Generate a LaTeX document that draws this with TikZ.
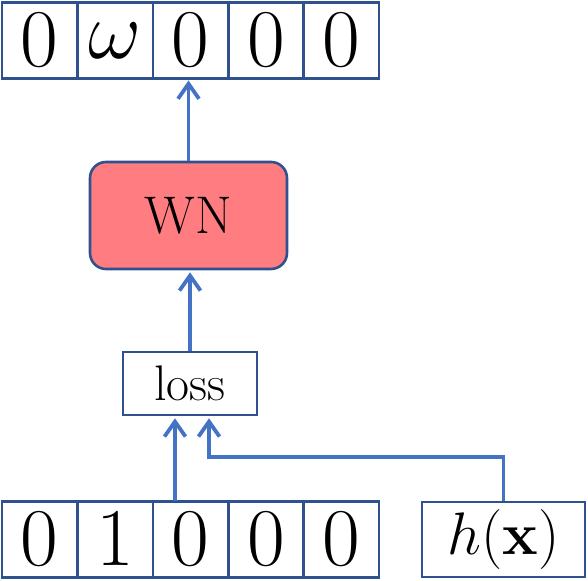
\documentclass[tikz,border=0pt]{standalone}
\usepackage{fix-cm}
\usetikzlibrary{matrix,arrows.meta}
\definecolor{boxline}{HTML}{2F528F}
\definecolor{arrowline}{HTML}{4472C4}
\definecolor{wnfill}{HTML}{FF7C80}
\tikzset{
	cell/.style = { draw=boxline, line width=1.3pt, anchor=center, minimum width=37.7pt, minimum height=38pt, inner sep=0pt, outer sep=0pt, font=\fontsize{41}{49}\selectfont },
	box/.style = { draw=boxline, line width=1.3pt, inner sep=0pt },
	arrow/.style = { line width=1.9pt, color=arrowline, -{Straight Barb[length=7.5pt,width=10.5pt]}, shorten >=1pt },
}

\begin{document}
\begin{tikzpicture}
\useasboundingbox (0,0) rectangle (294pt,290.5pt);
\matrix (top) at (95.25pt,270.25pt)
[
matrix of math nodes,
column sep = -1.3pt,
inner sep  = 0pt,
nodes      = { cell },
]
{
	0 & \omega & 0 & 0 & 0\\
};
\matrix (bottom) at (95.25pt,20.75pt)
[
matrix of math nodes,
column sep = -1.3pt,
inner sep  = 0pt,
nodes      = { cell },
]
{
	0 & 1 & 0 & 0 & 0\\
};
\node[box, minimum width=81.5pt, minimum height=37.5pt, font=\fontsize{30}{36}\selectfont] (hx) at (251.75pt,20.75pt) {$h(\mathbf{x})$};
\node[box, minimum width=67pt, minimum height=31.5pt, font=\fontsize{25}{30}\selectfont] (loss) at (95pt,98.75pt) {loss};
\node[box, fill=wnfill, rounded corners=8pt, minimum width=98.5pt, minimum height=53.5pt, font=\fontsize{26.5}{32}\selectfont] (wn) at (94.25pt,182.75pt) {WN};

\draw[arrow] (wn.north) -- (wn.north |- top-1-3.south);
\draw[arrow] (loss.north) -- (loss.north |- wn.south);
\draw[arrow] ([xshift=-7.5pt]loss.south |- bottom-1-3.north) -- ([xshift=-7.5pt]loss.south);
\draw[arrow] (hx.north) -- ++(0,22pt) -| ([xshift=9.5pt]loss.south);
\end{tikzpicture}
\end{document}
